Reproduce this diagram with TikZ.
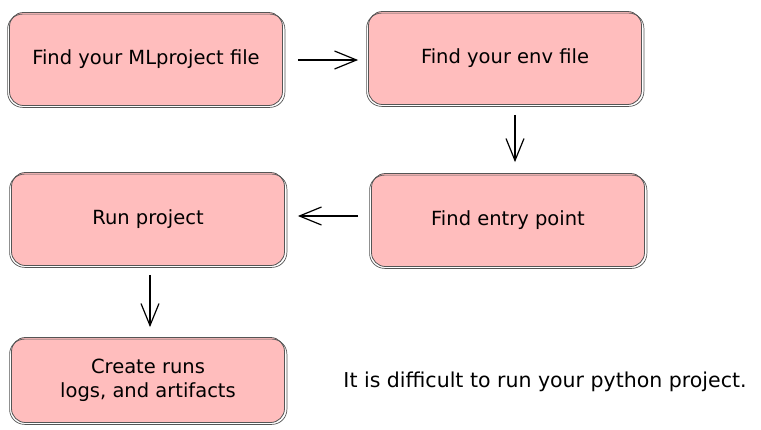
\documentclass[tikz,border=0pt]{standalone}
\usepackage{fontspec}
\setmainfont{DejaVu Sans}
\usetikzlibrary{arrows.meta}
\definecolor{boxpink}{HTML}{FFBDBD}
\definecolor{edgegray}{HTML}{555555}
\tikzset{
  box/.style={fill=boxpink, draw=edgegray, line width=0.8pt, rounded corners=14pt,
    minimum width=273pt, minimum height=93pt, align=center,
    font=\fontsize{19.5}{24}\selectfont, text=black},
  sketch/.style={draw=edgegray, line width=0.7pt, rounded corners=15pt},
  conn/.style={line width=1.2pt, -{Straight Barb[length=22pt,width=18pt,line width=1.2pt]}},
}
\begin{document}
\begin{tikzpicture}[x=1pt,y=-1pt]
\useasboundingbox (0,0) rectangle (761,429);
\fill[white] (0,0) rectangle (761,429);
\node[box] (b1) at (146,59) {Find your MLproject file};
\node[box] (b2) at (505,58) {Find your env file};
\node[box] (b3) at (508,220) {Find entry point};
\node[box] (b4) at (148,219) {Run project};
\node[box, minimum height=85pt] (b5) at (148,380) {Create runs\\logs, and artifacts};
\foreach \b in {b1,b2,b3,b4,b5}{
  \draw[sketch] ([shift={(-1.5,2)}]\b.north west) rectangle ([shift={(2,1.5)}]\b.south east);
}
\node[font=\fontsize{20.5}{24}\selectfont, anchor=center] (note) at (545,382) {It is difficult to run your python project.};
\draw[conn] ([xshift=15pt]b1.east |- 0,60) -- ([xshift=-10pt]b2.west |- 0,60);
\draw[conn] ([yshift=-10pt]b2.south -| 515,0) -- ([yshift=11pt]b3.north -| 515,0);
\draw[conn] ([xshift=-13pt]b3.west |- 0,216) -- ([xshift=13pt]b4.east |- 0,216);
\draw[conn] ([yshift=-9pt]b4.south -| 150,0) -- ([yshift=10pt]b5.north -| 150,0);
\end{tikzpicture}
\end{document}
